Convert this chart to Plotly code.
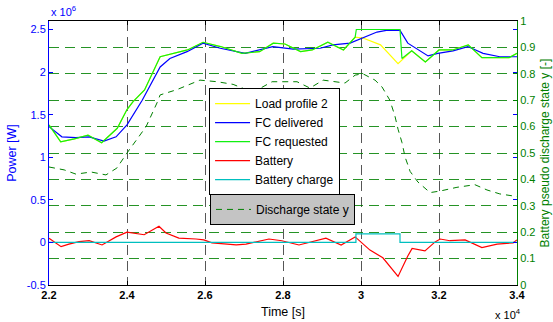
import plotly.graph_objects as go

# Time stamps [s] and power values [x 1e6 W]
t_load = [22000, 22300, 22650, 23000, 23350, 23750, 24000, 24150, 24450, 24850,
          25550, 25950, 26400, 26950, 27400, 27750, 28050, 28450, 28750, 29150,
          29550, 29850, 30050, 30500, 30950, 31300, 31650, 32000, 32350, 32750,
          33100, 33800, 34000]
load_profile = [1.38, 1.18, 1.215, 1.26, 1.17, 1.34, 1.56, 1.65, 1.79, 2.18,
                2.26, 2.35, 2.30, 2.22, 2.24, 2.34, 2.33, 2.24, 2.26, 2.35,
                2.26, 2.41, 2.40, 2.32, 2.10, 2.25, 2.12, 2.26, 2.26, 2.32,
                2.17, 2.17, 2.22]

t_req = t_load[:22] + [29880, 31000, 31050, 31300, 31650, 32000, 32350, 32750,
                       33100, 33800, 34000]
fc_requested = load_profile[:22] + [2.50, 2.50, 2.16, 2.25, 2.12, 2.26, 2.26, 2.32,
                                    2.17, 2.17, 2.22]

t_del = [22000, 22330, 22690, 23030, 23410, 23720, 24000, 24390, 24850, 25100,
         25540, 25950, 26390, 27030, 27740, 28260, 28950, 29280, 29720, 30030,
         30410, 30650, 31000, 31200, 31460, 31720, 31970, 32360, 32740, 33130,
         33560, 34000]
fc_delivered = [1.36, 1.24, 1.23, 1.24, 1.19, 1.24, 1.38, 1.67, 2.06, 2.16,
                2.24, 2.34, 2.28, 2.22, 2.30, 2.27, 2.28, 2.32, 2.34, 2.40,
                2.47, 2.49, 2.49, 2.34, 2.26, 2.19, 2.22, 2.25, 2.30, 2.22,
                2.18, 2.18]

t_bat = [22000, 22310, 22510, 22770, 23030, 23360, 23720, 24000, 24440, 24820,
         25000, 25330, 25770, 25970, 26180, 26800, 27050, 27640, 27970, 28410,
         29100, 29490, 29850, 30230, 30560, 30950, 31200, 31310, 31640, 31900,
         32030, 32280, 32670, 33100, 33490, 33900, 34000]
battery = [0.05, -0.05, -0.02, 0.01, 0.02, -0.03, 0.065, 0.12, 0.09, 0.19,
           0.11, 0.05, 0.04, 0.03, -0.005, -0.03, -0.02, 0.04, 0.02, -0.03,
           0.05, -0.03, 0.065, -0.09, -0.18, -0.40, -0.16, -0.07, -0.10, 0.006,
           0.04, 0.02, 0.03, -0.06, -0.02, -0.005, 0.03]

t_chg = [22000, 29870, 31000, 34000]
battery_charge = [0.0, 0.1, 0.0, 0.0]

# Battery pseudo discharge state y [-]
t_state = [22000, 22390, 22690, 23080, 23460, 23740, 24000, 24280, 24490, 24770,
           24850, 25280, 25870, 26310, 26720, 27230, 27720, 28360, 28690, 29030,
           29330, 29590, 29850, 30050, 30360, 30540, 30740, 30870, 30950, 31050,
           31130, 31260, 31460, 31770, 32030, 32460, 32920, 33230, 33560, 33900,
           34000]
discharge_state = [0.447, 0.436, 0.42, 0.428, 0.417, 0.443, 0.50, 0.56, 0.60, 0.69,
                   0.72, 0.74, 0.776, 0.77, 0.76, 0.73, 0.77, 0.77, 0.746, 0.776,
                   0.77, 0.765, 0.795, 0.80, 0.776, 0.75, 0.70, 0.64, 0.59, 0.54,
                   0.485, 0.43, 0.39, 0.35, 0.356, 0.37, 0.38, 0.36, 0.345, 0.337,
                   0.335]

x_ticks = [22000, 24000, 26000, 28000, 30000, 32000, 34000]
x_ticktext = ["2.2", "2.4", "2.6", "2.8", "3", "3.2", "3.4"]
p_ticks = [-0.5, 0, 0.5, 1, 1.5, 2, 2.5]
p_ticktext = ["-0.5", "0", "0.5", "1", "1.5", "2", "2.5"]

FONT = "Liberation Sans, Arial, sans-serif"
BLUE = "#0000ff"
DKGREEN = "#008000"

fig = go.Figure()
lw = 1.2
fig.add_trace(go.Scatter(x=t_load, y=load_profile, mode="lines", name="Load profile 2",
                         line=dict(color="#ffff00", width=lw)))
fig.add_trace(go.Scatter(x=t_del, y=fc_delivered, mode="lines", name="FC delivered",
                         line=dict(color=BLUE, width=lw)))
fig.add_trace(go.Scatter(x=t_req, y=fc_requested, mode="lines", name="FC requested",
                         line=dict(color="#11f011", width=lw)))
fig.add_trace(go.Scatter(x=t_bat, y=battery, mode="lines", name="Battery",
                         line=dict(color="#ff0000", width=lw)))
fig.add_trace(go.Scatter(x=t_chg, y=battery_charge, mode="lines", name="Battery charge",
                         line=dict(color="#00bfbf", width=lw, shape="hv")))
fig.add_trace(go.Scatter(x=t_state, y=discharge_state, mode="lines", name="Discharge state y",
                         yaxis="y2", legend="legend2",
                         line=dict(color=DKGREEN, width=1, dash="6px,5px")))

fig.update_layout(
    width=553, height=322,
    margin=dict(l=49, r=36, t=21, b=37),
    paper_bgcolor="white", plot_bgcolor="white",
    font=dict(family=FONT, size=11, color="black"),
    xaxis=dict(
        range=[22000, 34000], tickvals=x_ticks, ticktext=x_ticktext,
        ticks="inside", ticklen=4, tickcolor="black",
        showline=True, linecolor="black", linewidth=1, mirror="ticks",
        showgrid=True, gridcolor="rgba(30,30,30,0.75)", griddash="10px,6px", gridwidth=1,
        zeroline=False, automargin=False,
        tickfont=dict(family=FONT, size=11, color="black", weight="bold"),
        title=dict(text="Time [s]", font=dict(size=12.5, color="black"), standoff=7),
    ),
    yaxis=dict(
        range=[-0.5, 2.6], tickvals=p_ticks, ticktext=p_ticktext,
        ticks="inside", ticklen=4, tickcolor=BLUE,
        showline=True, linecolor=BLUE, linewidth=1, mirror="ticks",
        showgrid=False, zeroline=False, automargin=False,
        tickfont=dict(family=FONT, size=11, color=BLUE),
        title=dict(text="Power [W]", font=dict(size=12.5, color=BLUE), standoff=7),
    ),
    yaxis2=dict(
        overlaying="y", side="right", range=[0, 1], dtick=0.1,
        ticks="inside", ticklen=4, tickcolor=DKGREEN,
        showline=True, linecolor=DKGREEN, linewidth=1,
        showgrid=True, gridcolor="rgba(0,128,0,0.85)", griddash="10px,6px", gridwidth=1,
        zeroline=False, automargin=False,
        tickfont=dict(family=FONT, size=11, color=DKGREEN),
        title=dict(text="Battery pseudo discharge state y [-]",
                   font=dict(size=12, color=DKGREEN), standoff=6),
    ),
    legend=dict(
        x=0.342, y=0.746, xanchor="left", yanchor="top",
        bgcolor="white", bordercolor="black", borderwidth=1,
        font=dict(family=FONT, size=12, color="black"),
        itemwidth=35, tracegroupgap=0,
    ),
    legend2=dict(
        x=0.344, y=0.345, xanchor="left", yanchor="top",
        bgcolor="#c4c4c4", bordercolor="black", borderwidth=1,
        font=dict(family=FONT, size=12, color="black"),
        itemwidth=35,
    ),
    showlegend=True,
)

fig.add_annotation(text="x 10<sup>4</sup>", xref="paper", yref="paper",
                   x=1.012, y=-0.11, xanchor="right", yanchor="middle", showarrow=False,
                   font=dict(family=FONT, size=11, color="black"))
fig.add_annotation(text="x 10<sup>6</sup>", xref="paper", yref="paper",
                   x=0.0, y=1.005, xanchor="left", yanchor="bottom", showarrow=False,
                   font=dict(family=FONT, size=11, color=BLUE))

fig.write_html("out.html")
